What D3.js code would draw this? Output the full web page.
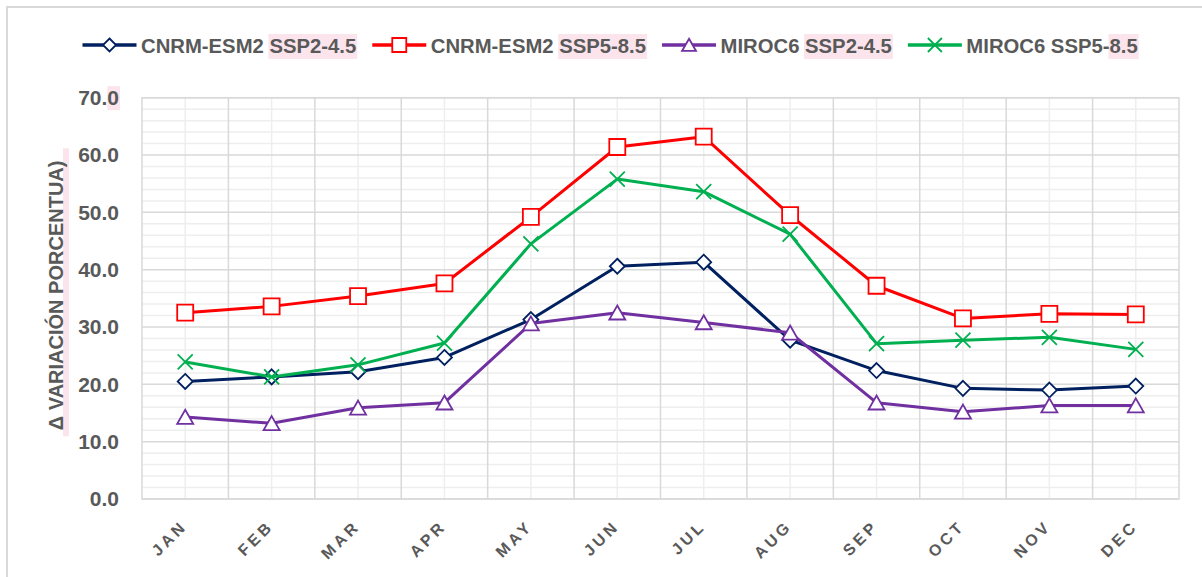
<!DOCTYPE html>
<html>
<head>
<meta charset="utf-8">
<script src="https://cdn.jsdelivr.net/npm/d3@7"></script>
<style>
  body { margin: 0; background: #fff; }
  svg { display: block; }
  text { font-family: "Liberation Sans", Arial, sans-serif; font-weight: bold; fill: #595959; }
</style>
</head>
<body>
<svg id="chart" width="1202" height="577"></svg>
<script>
// data
var months = ["JAN", "FEB", "MAR", "APR", "MAY", "JUN", "JUL", "AUG", "SEP", "OCT", "NOV", "DEC"];
var cnrm245  = [20.5, 21.3, 22.2, 24.7, 31.3, 40.6, 41.3, 27.7, 22.4, 19.3, 19.0, 19.7];
var cnrm585  = [32.5, 33.6, 35.4, 37.6, 49.2, 61.4, 63.2, 49.5, 37.2, 31.5, 32.3, 32.2];
var miroc245 = [14.3, 13.2, 15.9, 16.8, 30.6, 32.5, 30.8, 29.0, 16.8, 15.2, 16.3, 16.3];
var miroc585 = [23.9, 21.3, 23.4, 27.2, 44.5, 55.8, 53.6, 46.2, 27.1, 27.7, 28.2, 26.1];
var seriesNames = ["CNRM-ESM2 SSP2-4.5", "CNRM-ESM2 SSP5-8.5", "MIROC6 SSP2-4.5", "MIROC6 SSP5-8.5"];
var highlightParts = ["SSP2-4.5", "SSP5-8.5", "SSP2-4.5", "8.5"];
var yTicks = [0, 10, 20, 30, 40, 50, 60, 70];
var yTitle = "\u0394 VARIACI\u00d3N PORCENTUA)";

var seriesValues = [cnrm245, cnrm585, miroc245, miroc585];
var seriesColors = ["#002060", "#ff0000", "#7030a0", "#00b050"];
var seriesMarks = ["diamond", "square", "triangle", "cross"];
var pink = "#fce4ec";

var svg = d3.select("#chart"),
    margin = {top: 97.7, right: 23, bottom: 78, left: 142},
    width = +svg.attr("width") - margin.left - margin.right,
    height = +svg.attr("height") - margin.top - margin.bottom;

// outer chart border
svg.append("rect")
    .attr("x", 7).attr("y", 7)
    .attr("width", 1300).attr("height", 700)
    .attr("fill", "none").attr("stroke", "#d9d9d9").attr("stroke-width", 2);

var g = svg.append("g").attr("transform", "translate(" + margin.left + "," + margin.top + ")");

var x = d3.scalePoint().domain(months).range([0, width]).padding(0.5);
var step = x.step();
var y = d3.scaleLinear().domain([0, 70]).range([height, 0]);

// minor grid
g.append("g").selectAll("line")
    .data(d3.range(2, 70, 2).filter(function(v) { return v % 10 !== 0; }))
    .enter().append("line")
    .attr("x1", 0).attr("x2", width)
    .attr("y1", function(d) { return y(d); }).attr("y2", function(d) { return y(d); })
    .attr("stroke", "#eeeeee").attr("stroke-width", 1.5);
g.append("g").selectAll("line")
    .data(months)
    .enter().append("line")
    .attr("x1", function(d) { return x(d); }).attr("x2", function(d) { return x(d); })
    .attr("y1", 0).attr("y2", height)
    .attr("stroke", "#eeeeee").attr("stroke-width", 1.5);

// major grid
g.append("g").selectAll("line")
    .data(yTicks)
    .enter().append("line")
    .attr("x1", 0).attr("x2", width)
    .attr("y1", function(d) { return y(d); }).attr("y2", function(d) { return y(d); })
    .attr("stroke", "#d9d9d9").attr("stroke-width", 1.5);
g.append("g").selectAll("line")
    .data(months.slice(1))
    .enter().append("line")
    .attr("x1", function(d) { return x(d) - step / 2; }).attr("x2", function(d) { return x(d) - step / 2; })
    .attr("y1", 0).attr("y2", height)
    .attr("stroke", "#d9d9d9").attr("stroke-width", 1.5);

g.append("rect")
    .attr("width", width).attr("height", height)
    .attr("fill", "none").attr("stroke", "#d9d9d9").attr("stroke-width", 1.5);

// y axis labels
var yAxis = g.append("g")
    .attr("transform", "translate(-23,0)")
    .call(d3.axisLeft(y).tickValues(yTicks).tickFormat(d3.format(".1f")).tickSize(0).tickPadding(0));
yAxis.select(".domain").remove();
yAxis.selectAll("text")
    .attr("font-family", null).attr("fill", null)
    .style("font-size", "21px");

// pink highlight behind the last "0" of the top label
var topNode = yAxis.selectAll("text").filter(function(d) { return d === 70; }).node();
var lastW = topNode.getSubStringLength(3, 1);
yAxis.insert("rect", ":first-child")
    .attr("x", -lastW).attr("y", y(70) - 11.5)
    .attr("width", lastW + 1).attr("height", 24)
    .attr("fill", pink);

// y title
var titleY = margin.top + height / 2 - 3;
svg.append("rect")
    .attr("x", 63).attr("y", titleY - 147)
    .attr("width", 6).attr("height", 288)
    .attr("fill", pink);
svg.append("text")
    .attr("transform", "translate(63," + titleY + ") rotate(-90)")
    .attr("text-anchor", "middle")
    .style("font-size", "20px")
    .text(yTitle);

// x labels
g.append("g").selectAll("text")
    .data(months)
    .enter().append("text")
    .attr("transform", function(d) { return "translate(" + (x(d) + 3) + "," + (height + 28) + ") rotate(-45)"; })
    .attr("text-anchor", "end")
    .style("font-size", "16px")
    .style("letter-spacing", "3.5px")
    .text(function(d) { return d; });

function markPath(type, s) {
    if (type === "diamond") return "M0," + (-s) + "L" + s + ",0L0," + s + "L" + (-s) + ",0Z";
    if (type === "square") return "M" + (-s) + "," + (-s) + "h" + (2 * s) + "v" + (2 * s) + "h" + (-2 * s) + "Z";
    if (type === "triangle") return "M0," + (-s * 0.9) + "L" + s + "," + (s * 0.85) + "L" + (-s) + "," + (s * 0.85) + "Z";
    return "M" + (-s) + "," + (-s) + "L" + s + "," + s + "M" + (-s) + "," + s + "L" + s + "," + (-s);
}
var markSize = {diamond: 7.5, square: 8, triangle: 8, cross: 7.5};

var line = d3.line()
    .x(function(d, i) { return x(months[i]); })
    .y(function(d) { return y(d); });

seriesValues.forEach(function(vals, k) {
    var sg = g.append("g");
    sg.append("path")
        .attr("d", line(vals))
        .attr("fill", "none")
        .attr("stroke", seriesColors[k])
        .attr("stroke-width", 3)
        .attr("stroke-linejoin", "round");
    sg.selectAll("path.mark")
        .data(vals)
        .enter().append("path")
        .attr("class", "mark")
        .attr("transform", function(d, i) { return "translate(" + x(months[i]) + "," + y(d) + ")"; })
        .attr("d", markPath(seriesMarks[k], markSize[seriesMarks[k]]))
        .attr("fill", seriesMarks[k] === "cross" ? "none" : "#fff")
        .attr("stroke", seriesColors[k])
        .attr("stroke-width", 1.8);
});

// legend
var legend = svg.append("g");
var lx = 82.5, ly = 45;
seriesNames.forEach(function(name, k) {
    var item = legend.append("g");
    item.append("line")
        .attr("x1", lx).attr("x2", lx + 54)
        .attr("y1", ly).attr("y2", ly)
        .attr("stroke", seriesColors[k]).attr("stroke-width", 3.5);
    item.append("path")
        .attr("transform", "translate(" + (lx + 27) + "," + ly + ")")
        .attr("d", markPath(seriesMarks[k], seriesMarks[k] === "diamond" ? 6.5 : 7))
        .attr("fill", seriesMarks[k] === "cross" ? "none" : "#fff")
        .attr("stroke", seriesColors[k]).attr("stroke-width", 1.8);
    var tx = lx + 58.5;
    var hl = item.append("rect").attr("fill", pink);
    var t = item.append("text")
        .attr("x", tx).attr("y", ly + 7.5)
        .style("font-size", "20.3px")
        .text(name);
    var node = t.node();
    var idx = name.lastIndexOf(highlightParts[k]);
    var off = node.getSubStringLength(0, idx);
    var w = node.getSubStringLength(idx, highlightParts[k].length);
    hl.attr("x", tx + off - 1).attr("y", ly - 11)
        .attr("width", w + 2).attr("height", 25);
    lx = tx + node.getComputedTextLength() + 16;
});
</script>
</body>
</html>
